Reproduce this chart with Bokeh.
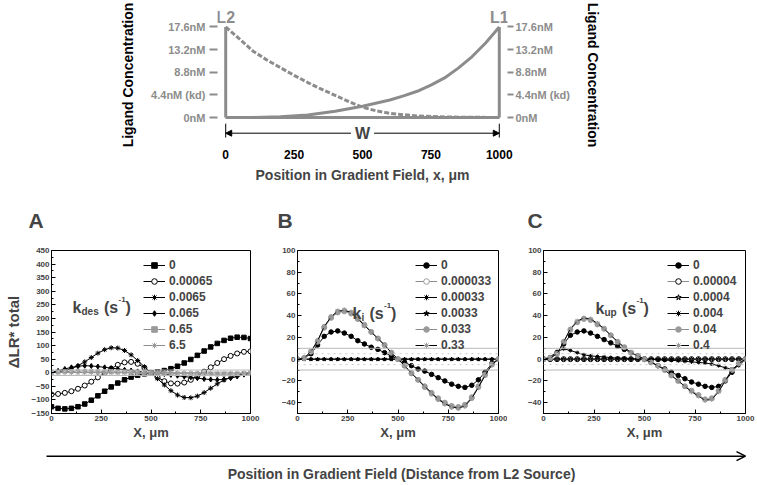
from bokeh.plotting import figure
from bokeh.models import (Range1d, FixedTicker, LinearAxis, Arrow, NormalHead, OpenHead,
                          Label, Legend, LegendItem, Span)
from bokeh.layouts import column, row
from bokeh.embed import file_html
from bokeh.resources import INLINE

FONT = "Liberation Sans"
GRAY = "#8c8c8c"
MGRAY = "#9a9a9a"

# ---------------- top chart data ----------------
FIELD_X = [0, 1000]
BASE_Y = [0, 0]
SOURCE_TOP = [17.6, 17.6]
SOURCE_NAMES = ["L2", "L1"]
L1_X = [0, 100, 200, 300, 400, 500, 600, 650, 700, 750, 800, 850, 900, 950, 1000]
L1_Y = [0, 0.02, 0.15, 0.5, 1.2, 2.2, 3.4, 4.2, 5.1, 6.3, 7.7, 9.6, 11.8, 14.5, 17.6]
L2_X = [0, 50, 100, 150, 200, 250, 300, 350, 400, 450, 500, 550, 600, 700, 800, 900, 1000]
L2_Y = [17.6, 15.3, 12.9, 11.2, 9.7, 8.2, 6.8, 5.5, 4.3, 3.1, 2.0, 1.3, 0.8, 0.3, 0.1, 0.05, 0]
CONC_TICKS = [0, 4.4, 8.8, 13.2, 17.6]
CONC_LABELS = ["0nM", "4.4nM (kd)", "8.8nM", "13.2nM", "17.6nM"]
POS_TICKS = [0, 250, 500, 750, 1000]

# ---------------- bottom panels data ----------------
X = [0, 33, 67, 100, 133, 167, 200, 233, 267, 300, 333, 367, 400, 433, 467, 500,
     533, 567, 600, 633, 667, 700, 733, 767, 800, 833, 867, 900, 933, 967, 1000]

A_LABELS = ["0", "0.00065", "0.0065", "0.065", "0.65", "6.5"]
A_K0 = [-125, -131, -133, -131, -125, -115, -101, -85, -68, -52, -38, -26, -16, -9, -4, 0,
        3, 8, 15, 24, 36, 49, 64, 80, 95, 108, 119, 127, 131, 130, 126]
A_K00065 = [-80, -78, -74, -68, -59, -47, -33, -17, -1, 15, 29, 38, 40, 33, 18, 0,
            -17, -31, -39, -40, -36, -26, -12, 4, 20, 36, 50, 62, 71, 77, 79]
A_K0065 = [1, 3, 8, 15, 26, 40, 56, 72, 85, 92, 91, 82, 66, 45, 22, 0,
           -22, -45, -66, -82, -91, -92, -86, -73, -57, -41, -27, -16, -8, -3, -1]
A_K065 = [2, 7, 14, 20, 24, 26, 25, 23, 20, 17, 14, 11, 8, 5, 2, 0,
          -2, -5, -8, -11, -14, -17, -20, -23, -25, -26, -24, -20, -14, -7, -2]
A_K65 = [0, 2, 4, 5, 6, 6, 5, 5, 4, 4, 3, 3, 2, 1, 1, 0,
         -1, -1, -2, -3, -3, -4, -4, -5, -5, -6, -6, -5, -4, -2, 0]
A_K6_5 = [0, 1, 1, 1, 1, 1, 1, 1, 1, 0, 0, 0, 0, 0, 0, 0,
          0, 0, 0, 0, 0, 0, 0, -1, -1, -1, -1, -1, -1, -1, 0]

B_LABELS = ["0", "0.000033", "0.00033", "0.0033", "0.033", "0.33"]
B_K0 = [0, 1, 5, 13, 21, 25, 26, 24, 21, 17, 14, 11, 9, 6, 3, 0,
        -3, -6, -9, -11, -14, -17, -20, -23, -25, -26, -24, -19, -12, -4, 0]
B_K000033 = [0, 1, 7, 17, 30, 39, 44, 45, 43, 38, 32, 25, 19, 13, 6, 0,
             -6, -13, -19, -26, -32, -37, -41, -44, -45, -43, -36, -26, -15, -5, 0]
B_K00033 = [0, 0, 0, 0, 0, 0, 0, 0, 0, 0, 0, 0, 0, 0, 0, 0,
            0, 0, 0, 0, 0, 0, 0, 0, 0, 0, 0, 0, 0, 0, 0]
B_K0033 = [0, 0, 0, 0, 0, 0, 0, 0, 0, 0, 0, 0, 0, 0, 0, 0,
           0, 0, 0, 0, 0, 0, 0, 0, 0, 0, 0, 0, 0, 0, 0]
B_K033 = [0, 1, 7, 16, 29, 38, 43, 44, 42, 37, 31, 25, 19, 13, 6, 0,
          -6, -13, -19, -25, -31, -36, -40, -43, -44, -42, -35, -25, -14, -5, 0]
B_K33 = [0, 1, 7, 17, 30, 39, 44, 45, 43, 37, 31, 25, 19, 13, 6, 0,
         -6, -13, -19, -25, -31, -37, -41, -44, -45, -43, -36, -26, -15, -5, 0]

C_LABELS = ["0", "0.00004", "0.0004", "0.004", "0.04", "0.4"]
C_K0 = [0, 1, 6, 14, 22, 25, 26, 24, 21, 18, 15, 12, 9, 6, 3, 0,
        -3, -6, -9, -12, -15, -18, -21, -23, -25, -26, -25, -20, -12, -4, 0]
C_K00004 = [0, 0, 0, 0, 0, 0, 0, 0, 0, 0, 0, 0, 0, 0, 0, 0,
            0, 0, 0, 0, 0, 0, 0, 0, 0, 0, 0, 0, 0, 0, 0]
C_K0004 = [0, 0, 0, 0, 0, 0, 0, 0, 0, 0, 0, 0, 0, 0, 0, 0,
           0, 0, 0, 0, 0, 0, 0, 0, 0, 0, 0, 0, 0, 0, 0]
C_K004 = [0, 2, 7, 9.5, 8, 6, 4, 3, 2.5, 2, 1.5, 1, 1, 0.5, 0.3, 0,
          -0.3, -0.5, -1, -1, -1.5, -2, -2.5, -3, -3.5, -4.5, -6, -8, -9, -6, 0]
C_K04 = [0, 1, 5, 16, 27, 34, 37, 36, 32, 28, 22, 16, 11, 6, 3, 0,
         -3, -6, -10, -15, -20, -25, -29, -33, -37, -36, -29, -19, -10, -4, 0]
C_K4 = [0, 1, 5, 16, 28, 35, 38, 37, 33, 28, 22, 16, 11, 6, 3, 0,
        -3, -6, -10, -15, -20, -25, -30, -34, -38, -37, -30, -20, -10, -4, 0]

A_TICKS = [-150, -100, -50, 0, 50, 100, 150, 200, 250, 300, 350, 400, 450]
A_MINOR = [-125, -75, -25, 25, 75, 125, 175, 225, 275, 325, 375, 425]
BC_TICKS = [-40, -20, 0, 20, 40, 60, 80, 100]
BC_MINOR = [-50, -30, -10, 10, 30, 50, 70, 90]
X_MINOR = [125, 375, 625, 875]

# ---------------- top chart ----------------
top = figure(width=757, height=186, x_range=Range1d(-30, 1030), y_range=Range1d(-4.47, 21.0),
             output_backend="svg", toolbar_location=None,
             min_border_left=217, min_border_right=250, min_border_top=9, min_border_bottom=46)
top.outline_line_color = None
top.grid.visible = False


def style_conc_axis(ax, tick_out, standoff):
    ax.ticker = FixedTicker(ticks=CONC_TICKS)
    ax.major_label_overrides = dict(zip(CONC_TICKS, CONC_LABELS))
    ax.axis_line_color = None
    ax.major_tick_line_color = GRAY
    ax.major_tick_line_width = 2
    ax.major_tick_out = tick_out
    ax.major_tick_in = 0
    ax.minor_tick_line_color = None
    ax.major_label_text_color = GRAY
    ax.major_label_text_font = FONT
    ax.major_label_text_font_size = "11px"
    ax.major_label_text_font_style = "bold"
    ax.major_label_standoff = standoff
    ax.axis_label = "Ligand Concentration"
    ax.axis_label_text_font = FONT
    ax.axis_label_text_font_size = "14px"
    ax.axis_label_text_font_style = "bold"
    ax.axis_label_text_color = "black"
    ax.axis_label_standoff = 12


style_conc_axis(top.yaxis[0], 8, 4)
raxis = LinearAxis()
style_conc_axis(raxis, 6, 2)
top.add_layout(raxis, "right")

xa = top.xaxis[0]
xa.ticker = FixedTicker(ticks=POS_TICKS)
xa.axis_line_color = None
xa.major_tick_line_color = None
xa.major_tick_out = 0
xa.major_tick_in = 0
xa.minor_tick_line_color = None
xa.major_label_text_font = FONT
xa.major_label_text_font_size = "12px"
xa.major_label_text_font_style = "bold"
xa.major_label_text_color = "black"
xa.major_label_standoff = 9
xa.axis_label = "Position in Gradient Field, x, \u03bcm"
xa.axis_label_text_font = FONT
xa.axis_label_text_font_size = "14px"
xa.axis_label_text_font_style = "bold"
xa.axis_label_standoff = 5

top.line(FIELD_X, BASE_Y, line_color=GRAY, line_width=3)
top.segment(x0=FIELD_X, y0=BASE_Y, x1=FIELD_X, y1=SOURCE_TOP, line_color=GRAY, line_width=3)
top.line(L1_X, L1_Y, line_color=GRAY, line_width=3)
top.line(L2_X, L2_Y, line_color=GRAY, line_width=3, line_dash="5 2")
top.text(x=FIELD_X, y=SOURCE_TOP, text=SOURCE_NAMES, y_offset=-9, text_align="center",
         text_baseline="middle", text_color=GRAY, text_font_size="16px",
         text_font_style="bold", text_font={"value": FONT})

W_Y = -3.05
top.segment(x0=FIELD_X, y0=[-1.2, -1.2], x1=FIELD_X, y1=[-3.9, -3.9], line_color="black", line_width=1)
top.add_layout(Arrow(start=NormalHead(size=6, fill_color="black", line_color="black"),
                     end=NormalHead(size=6, fill_color="black", line_color="black"),
                     x_start=0, y_start=W_Y, x_end=1000, y_end=W_Y, line_color="black", line_width=1))
top.add_layout(Label(x=500, y=W_Y, text="W", text_align="center", text_baseline="middle",
                     text_font=FONT, text_font_size="16px", text_font_style="bold",
                     background_fill_color="white", padding=4))


# ---------------- bottom panels ----------------
def k_label(p, x0, y0, sub, subw):
    parts = [("k", 16, 0, 0), (sub, 10, -4, 9), ("(s", 16, 0, 9 + subw + 5),
             ("-1", 8, 8, 9 + subw + 5 + 14.5), (")", 16, 0, 9 + subw + 5 + 21.5)]
    for txt, fs, dy, dx in parts:
        p.add_layout(Label(x=x0 + dx, y=y0 + dy, x_units="screen", y_units="screen", text=txt,
                           text_font=FONT, text_font_size=f"{fs}px", text_font_style="bold",
                           text_baseline="alphabetic"))


def panel(letter, letter_off, yr, yticks, yminor, width, bl, br, series, labels, legend_x,
          kx, ky, ksub, ksubw, ylabel=None):
    p = figure(width=width, height=256, x_range=Range1d(0, 1000), y_range=Range1d(*yr),
               output_backend="svg", toolbar_location=None, title=letter,
               min_border_left=bl, min_border_right=br, min_border_top=64, min_border_bottom=29)
    p.title.align = "left"
    p.title.offset = letter_off
    p.title.text_font = FONT
    p.title.text_font_size = "21px"
    p.title.text_font_style = "bold"
    p.title.standoff = 38
    p.grid.visible = False
    p.outline_line_color = "black"
    p.outline_line_width = 1

    ya = p.yaxis[0]
    ya.ticker = FixedTicker(ticks=yticks, minor_ticks=yminor)
    xa = p.xaxis[0]
    xa.ticker = FixedTicker(ticks=POS_TICKS, minor_ticks=X_MINOR)
    for ax in (xa, ya):
        ax.axis_line_color = "black"
        ax.major_tick_in = 4
        ax.major_tick_out = 0
        ax.minor_tick_in = 2
        ax.minor_tick_out = 0
        ax.major_tick_line_color = "black"
        ax.minor_tick_line_color = "black"
        ax.major_label_text_font = FONT
        ax.major_label_text_font_size = "8px"
        ax.major_label_text_font_style = "bold"
        ax.major_label_standoff = 2
        ax.axis_label_text_font = FONT
        ax.axis_label_text_font_style = "bold"
    xa.axis_label = "X, \u03bcm"
    xa.axis_label_text_font_size = "13px"
    xa.axis_label_standoff = 1
    if ylabel:
        ya.axis_label = ylabel
        ya.axis_label_text_font_size = "15px"
        ya.axis_label_standoff = 6

    for v in (10, -10):
        p.add_layout(Span(location=v, dimension="width", line_color="#b8b8b8", line_width=1))
    for v in (5, -5):
        p.add_layout(Span(location=v, dimension="width", line_color="#c8c8c8", line_width=1,
                          line_dash="dotted"))

    items = []
    for (ys, lc, mk, ms, fc, mlc), lab in zip(series, labels):
        rl = p.line(X, ys, line_color=lc, line_width=1)
        rs = p.scatter(X, ys, marker=mk, size=ms, fill_color=fc, line_color=mlc, line_width=1)
        items.append(LegendItem(label=lab, renderers=[rl, rs]))
    leg = Legend(items=items, location=(legend_x, 61), border_line_color=None,
                 background_fill_alpha=0, label_text_font=FONT, label_text_font_size="12px",
                 label_text_font_style="bold", glyph_width=22, glyph_height=14,
                 label_height=14, spacing=2, padding=0, margin=0, label_standoff=4)
    p.add_layout(leg)
    k_label(p, kx, ky, ksub, ksubw)
    return p


A_SERIES = [
    (A_K0, "black", "square", 4.5, "black", "black"),
    (A_K00065, "black", "circle", 5, "white", "black"),
    (A_K0065, "black", "asterisk", 5, "black", "black"),
    (A_K065, "black", "diamond", 5, "black", "black"),
    (A_K65, GRAY, "square", 3.5, MGRAY, MGRAY),
    (A_K6_5, GRAY, "asterisk", 5, MGRAY, MGRAY),
]
B_SERIES = [
    (B_K0, "black", "circle", 4.5, "black", "black"),
    (B_K000033, GRAY, "circle", 4.5, "white", MGRAY),
    (B_K00033, "black", "asterisk", 4, "black", "black"),
    (B_K0033, "black", "star", 4, "black", "black"),
    (B_K033, GRAY, "circle", 5, MGRAY, MGRAY),
    (B_K33, "black", "asterisk", 5, MGRAY, MGRAY),
]
C_SERIES = [
    (C_K0, "black", "circle", 4.5, "black", "black"),
    (C_K00004, GRAY, "circle", 5, "white", "black"),
    (C_K0004, "black", "star", 4, MGRAY, "black"),
    (C_K004, "black", "asterisk", 4, "black", "black"),
    (C_K04, GRAY, "circle", 5, MGRAY, MGRAY),
    (C_K4, "black", "asterisk", 5, MGRAY, MGRAY),
]

pa = panel("A", -23, (-150, 450), A_TICKS, A_MINOR, 262, 51, 12, A_SERIES, A_LABELS, 92,
           21, 106, "des", 17.5, ylabel="\u0394LR* total")
pb = panel("B", -20, (-50, 100), BC_TICKS, BC_MINOR, 245, 35, 9, B_SERIES, B_LABELS, 118,
           55, 100, "i", 3)
pc = panel("C", -16, (-50, 100), BC_TICKS, BC_MINOR, 250, 36, 12, C_SERIES, C_LABELS, 124,
           52, 105, "up", 12.5)

# ---------------- bottom arrow ----------------
bot = figure(width=757, height=43, x_range=Range1d(0, 757), y_range=Range1d(0, 43),
             output_backend="svg", toolbar_location=None, min_border=0,
             x_axis_location=None, y_axis_location=None)
bot.outline_line_color = None
bot.grid.visible = False
bot.add_layout(Arrow(end=OpenHead(size=9, line_width=1.5, line_color="black"),
                     x_start=46, y_start=29.3, x_end=745, y_end=29.3,
                     line_color="black", line_width=1.5))
bot.add_layout(Label(x=401, y=12, text="Position in Gradient Field (Distance from L2 Source)",
                     text_align="center", text_baseline="middle", text_font=FONT,
                     text_font_size="14px", text_font_style="bold"))

layout = column(top, row(pa, pb, pc), row(bot))
open("out.html", "w").write(file_html(layout, INLINE))
